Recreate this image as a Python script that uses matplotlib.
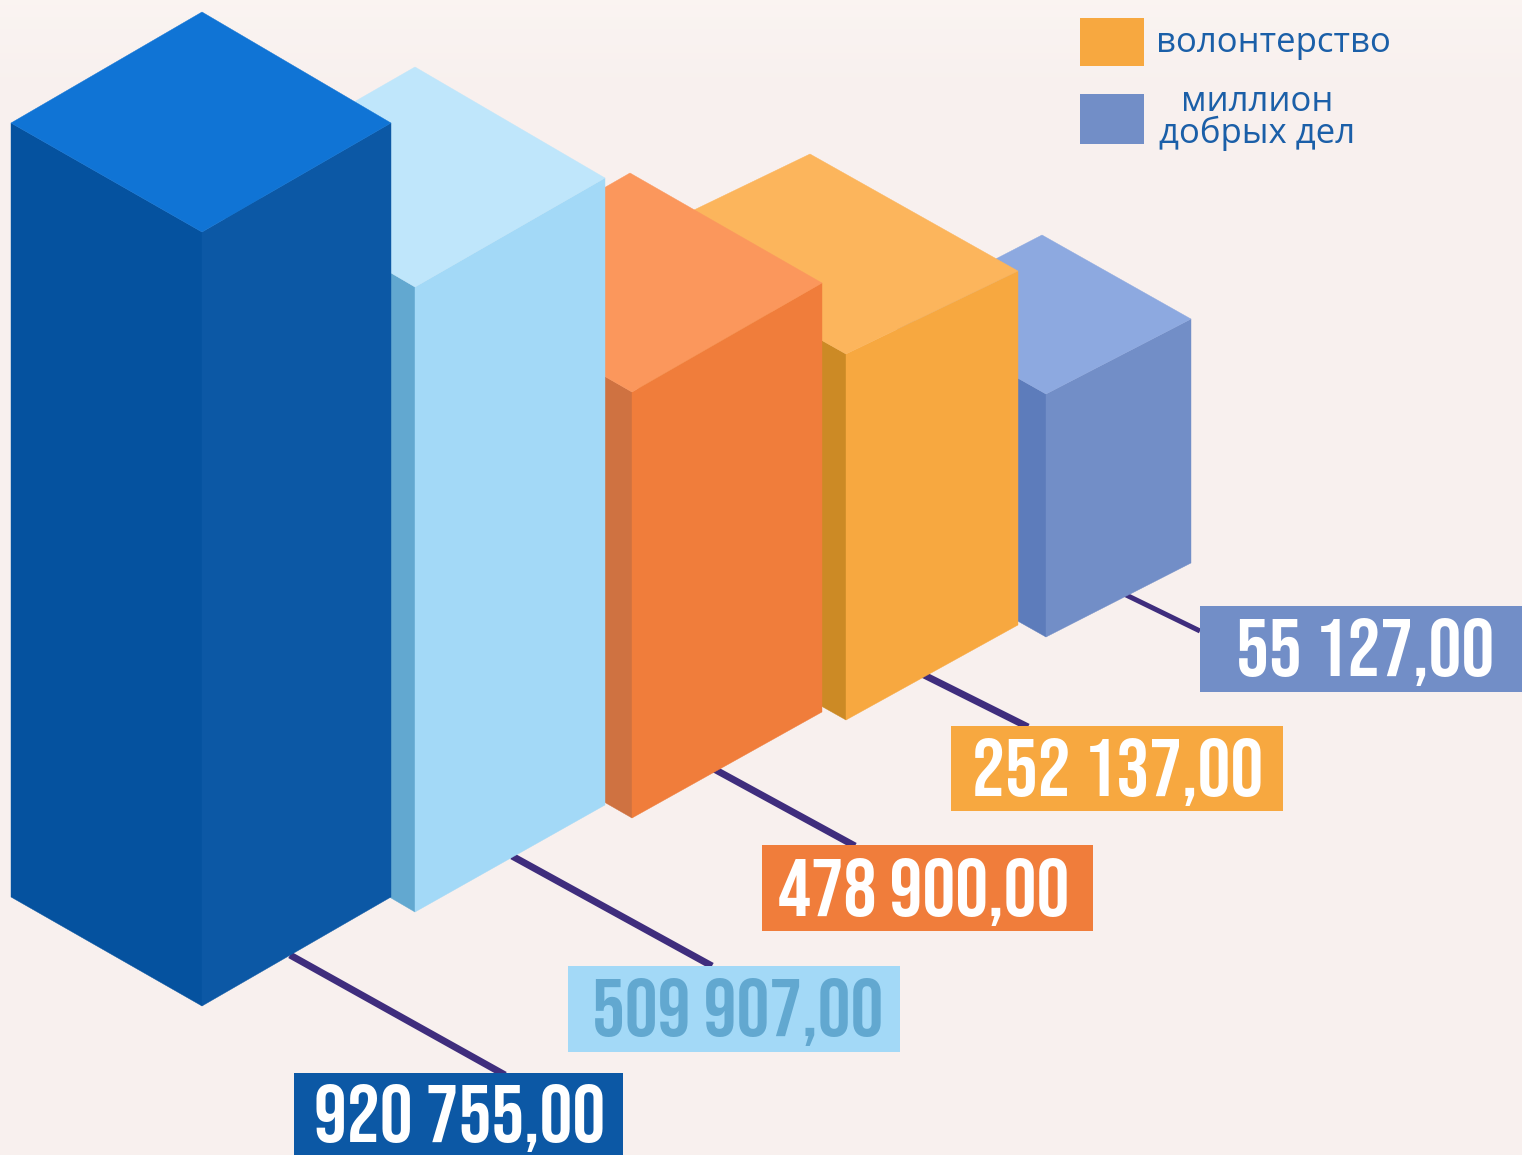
import numpy as np
import matplotlib
matplotlib.use('Agg')
import matplotlib.pyplot as plt
from matplotlib.patches import Polygon, Rectangle

# values shown on the labels, front bar first
values = [920755, 509907, 478900, 252137, 55127]
legend_labels = ['волонтерство', 'миллион\nдобрых дел']

# the bars are not drawn to scale in the original, so shapes are kept separately
# top face corners: apex, right, front, left, then bottoms (y) of front, right, left edges
bars = [
    ((202, 12), (391, 123), (202, 232), (11, 123), 1006, 897, 897),
    ((415, 67), (605, 178), (415, 287), (225, 176), 912, 805, 801),
    ((630, 173), (822, 283), (632, 392), (440, 282), 818, 712, 708),
    ((810, 154), (1018, 271), (846, 354), (638, 237), 720, 625, 603),
    ((1042, 235), (1191, 319), (1046, 394), (897, 310), 637, 563, 553),
]
top_colors = ['#1074d5', '#bfe6fb', '#fb975c', '#fcb55c', '#8da9e0']
right_colors = ['#0c58a5', '#a3d9f7', '#f07d3b', '#f7a840', '#728ec7']
left_colors = ['#05529f', '#62a8d0', '#cf7241', '#cc8a25', '#5d7cbb']

# label box: x0, x1, y0, y1, then text centre x and baseline
boxes = [
    (294, 623, 1073, 1160, 460, 1142),
    (568, 900, 966, 1052, 738, 1036),
    (762, 1093, 845, 931, 924, 916),
    (951, 1283, 726, 811, 1118, 796),
    (1200, 1522, 606, 692, 1365, 676),
]
box_colors = ['#0c58a5', '#a3d9f7', '#f07d3b', '#f7a840', '#728ec7']
text_colors = ['white', '#62a8d0', 'white', 'white', 'white']
leaders = [
    ((290, 955), (505, 1075), 5),
    ((512, 856), (712, 966), 5),
    ((714, 769), (855, 846), 5),
    ((918, 672), (1028, 727), 5),
    ((1120, 592), (1200, 631), 3.6),
]


def fmt(v):
    return f'{v:,.2f}'.replace(',', ' ').replace('.', ',')


fig = plt.figure(figsize=(15.22, 11.55), dpi=100)
ax = fig.add_axes([0, 0, 1, 1])
ax.axis('off')
fig.patch.set_facecolor('#f8f0ee')

# faint lighter band along the top of the page
fade = (1 - np.arange(100) / 100)[:, None, None] * 0.6
bg = (np.array([248, 240, 238]) * (1 - fade) + np.array([252, 247, 244]) * fade) / 255
ax.imshow(bg, extent=(0, 1522, 100, 0), aspect='auto', zorder=0)
ax.set_xlim(0, 1522)
ax.set_ylim(1155, 0)

for (p0, p1, lw) in leaders:
    ax.plot([p0[0], p1[0]], [p0[1], p1[1]], color='#3f2d7d', lw=lw, solid_capstyle='butt', zorder=1)

# back to front so nearer bars cover the others
for i in range(len(bars) - 1, -1, -1):
    apex, right, front, left, front_bot, right_bot, left_bot = bars[i]
    z = 2 + (len(bars) - i)
    ax.add_patch(Polygon([left, front, (front[0], front_bot), (left[0], left_bot)],
                         fc=left_colors[i], ec=left_colors[i], lw=0.3, zorder=z))
    ax.add_patch(Polygon([front, right, (right[0], right_bot), (front[0], front_bot)],
                         fc=right_colors[i], ec=right_colors[i], lw=0.3, zorder=z))
    ax.add_patch(Polygon([apex, right, front, left],
                         fc=top_colors[i], ec=top_colors[i], lw=0.3, zorder=z))

for i, v in enumerate(values):
    x0, x1, y0, y1, tx, base = boxes[i]
    ax.add_patch(Rectangle((x0, y0), x1 - x0, y1 - y0, fc=box_colors[i], ec='none', zorder=10))
    ax.text(tx, base, fmt(v), color=text_colors[i], fontsize=59,
            family=['Bebas Neue', 'DejaVu Sans'], ha='center', va='baseline', zorder=11)

# legend
ax.add_patch(Rectangle((1080, 18), 64, 48, fc='#f7a840', ec='none', zorder=10))
ax.add_patch(Rectangle((1080, 94), 64, 50, fc='#728ec7', ec='none', zorder=10))
ax.text(1273, 43, legend_labels[0], color='#1b5fa8', fontsize=25, family='Open Sans',
        ha='center', va='center', zorder=11)
ax.text(1257, 118, legend_labels[1], color='#1b5fa8', fontsize=25, family='Open Sans',
        ha='center', va='center', linespacing=0.87, zorder=11)

plt.savefig('out.png', dpi=100)
